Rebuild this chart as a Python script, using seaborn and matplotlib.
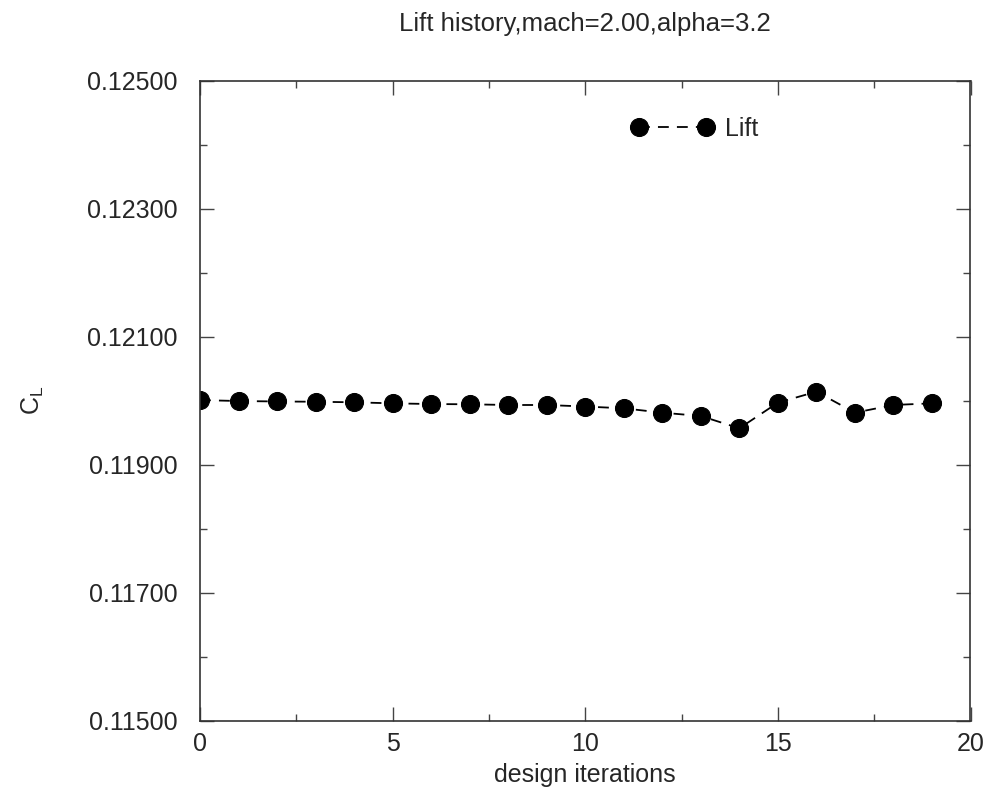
import matplotlib
matplotlib.use("Agg")
import matplotlib.pyplot as plt
import seaborn as sns
import pandas as pd
from matplotlib.ticker import FixedLocator, FormatStrFormatter

iterations = list(range(20))
lift = [0.12001, 0.119995, 0.119988, 0.119984, 0.119975, 0.119959, 0.119948,
        0.119944, 0.119933, 0.119933, 0.119909, 0.119881, 0.119813, 0.119761,
        0.119569, 0.119969, 0.120141, 0.119813, 0.119933, 0.119959]
series_label = "Lift"
title = "Lift history,mach=2.00,alpha=3.2"
xlabel = "design iterations"
ylabel = r"C$_\mathregular{L}$"
x_major = [0, 5, 10, 15, 20]
x_minor = [2.5, 7.5, 12.5, 17.5]
y_major = [0.115, 0.117, 0.119, 0.121, 0.123, 0.125]
y_minor = [0.116, 0.118, 0.120, 0.122, 0.124]

sns.set_style("ticks")
plt.rcParams['font.family'] = ['Liberation Sans', 'DejaVu Sans']

df = pd.DataFrame({"iter": iterations, "lift": lift})

fig = plt.figure(figsize=(10, 7.96), dpi=100)
ax = fig.add_axes([0.2, 0.0946, 0.7705, 0.804])

sns.lineplot(data=df, x="iter", y="lift", ax=ax, color="black", marker="o",
             markersize=13, markeredgecolor="black", linestyle="--",
             linewidth=1.3, label=series_label)
for l in ax.lines:
    l.set_dashes([6, 4.5])

ax.set_xlim(0, 20)
ax.set_ylim(0.115, 0.125)
ax.xaxis.set_major_locator(FixedLocator(x_major))
ax.xaxis.set_minor_locator(FixedLocator(x_minor))
ax.yaxis.set_major_locator(FixedLocator(y_major))
ax.yaxis.set_minor_locator(FixedLocator(y_minor))
ax.yaxis.set_major_formatter(FormatStrFormatter('%.5f'))

ax.tick_params(which='both', direction='in', top=True, right=True,
               color='#444444', width=1)
ax.tick_params(which='major', length=10, labelsize=18)
ax.tick_params(axis='y', which='major', pad=16)
ax.tick_params(axis='x', which='major', pad=8)
ax.tick_params(which='minor', length=5)
for s in ax.spines.values():
    s.set_visible(True)
    s.set_color('#333333')
    s.set_linewidth(1.2)

ax.set_title(title, fontsize=18.5, pad=36)
ax.set_xlabel(xlabel, fontsize=18, labelpad=5)
ax.set_ylabel(ylabel, fontsize=18)
ax.yaxis.set_label_coords(-0.2, 0.5)

leg = ax.legend(loc='upper right', bbox_to_anchor=(0.754, 0.979), frameon=False,
                numpoints=2, handlelength=3.3, handletextpad=0.45,
                fontsize=18, markerscale=1.0)

fig.savefig("out.png", dpi=100)
